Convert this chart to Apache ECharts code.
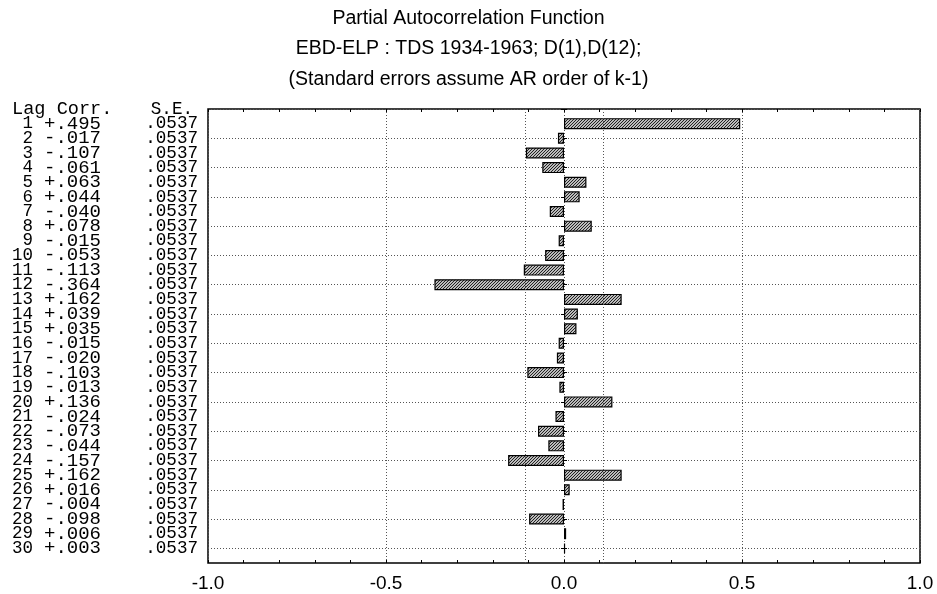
<!DOCTYPE html>
<html>
<head>
<meta charset="utf-8">
<script src="https://cdn.jsdelivr.net/npm/echarts@6/dist/echarts.min.js"></script>
<style>
  html, body { margin: 0; padding: 0; background: #fff; }
  #chart { width: 937px; height: 594px; }
</style>
</head>
<body>
<div id="chart"></div>
<script>
// partial autocorrelations, lag 1..30
var lags = [1,2,3,4,5,6,7,8,9,10,11,12,13,14,15,16,17,18,19,20,21,22,23,24,25,26,27,28,29,30];
var corr = [0.495,-0.017,-0.107,-0.061,0.063,0.044,-0.040,0.078,-0.015,-0.053,
            -0.113,-0.364,0.162,0.039,0.035,-0.015,-0.020,-0.103,-0.013,0.136,
            -0.024,-0.073,-0.044,-0.157,0.162,0.016,-0.004,-0.098,0.006,0.003];
var se = [0.0537,0.0537,0.0537,0.0537,0.0537,0.0537,0.0537,0.0537,0.0537,0.0537,
          0.0537,0.0537,0.0537,0.0537,0.0537,0.0537,0.0537,0.0537,0.0537,0.0537,
          0.0537,0.0537,0.0537,0.0537,0.0537,0.0537,0.0537,0.0537,0.0537,0.0537];
var confLimit = 0.1074; // 2 * S.E.

// one empty slot above and below, like the original table
var cats = [''].concat(lags.map(String)).concat(['']);
var barData = [null].concat(corr).concat([null]);

function fmt3(v) {
  var s = Math.abs(v).toFixed(3).replace(/^0/, '');
  return (v < 0 ? '-' : '+') + s;
}
function fmtSe(v) {
  return v.toFixed(4).replace(/^0/, '');
}

// hatch pattern for the bars
var hatch = document.createElement('canvas');
hatch.width = 3; hatch.height = 3;
var hc = hatch.getContext('2d');
hc.fillStyle = '#bcbcbc';
hc.fillRect(0, 0, 3, 3);
hc.fillStyle = '#222';
for (var px = 0; px < 3; px++) {
  for (var py = 0; py < 3; py++) {
    if ((px + py) % 3 === 2) hc.fillRect(px, py, 1, 1);
  }
}

var mono = '"Courier New", Courier, "Liberation Mono", monospace';
var sans = 'Arial, "Liberation Sans", Helvetica, sans-serif';
var tick = { show: true, inside: true, length: 3, lineStyle: { color: '#000' } };
var dotted = { color: '#555', type: [1, 2], width: 1 };

// one table column drawn as the labels of an extra left category axis
function tableAxis(margin, align, size, fn) {
  return {
    type: 'category',
    data: cats,
    inverse: true,
    boundaryGap: false,
    position: 'left',
    axisLine: { show: false },
    axisTick: { show: false },
    splitLine: { show: false },
    axisLabel: {
      interval: 0,
      align: align,
      margin: margin,
      padding: [0, 0, 4, 0],
      fontFamily: mono,
      fontSize: size,
      color: '#000',
      formatter: function (v, i) { return fn(i); }
    }
  };
}

var chart = echarts.init(document.getElementById('chart'));
var option = {
  animation: false,
  backgroundColor: '#fff',
  title: {
    text: 'Partial Autocorrelation Function\nEBD-ELP : TDS 1934-1963; D(1),D(12);\n(Standard errors assume AR order of k-1)',
    left: 'center',
    top: -2,
    textStyle: {
      fontFamily: sans,
      fontSize: 19.5,
      fontWeight: 'normal',
      color: '#000',
      lineHeight: 30.5
    }
  },
  grid: {
    left: 208,
    right: 17,
    top: 109,
    bottom: 31,
    show: true,
    borderColor: '#000',
    borderWidth: 1.5,
    backgroundColor: 'transparent'
  },
  xAxis: [
    {
      type: 'value',
      min: -1,
      max: 1,
      interval: 0.5,
      position: 'bottom',
      axisLine: { show: false },
      axisTick: tick,
      minorTick: { show: true, splitNumber: 5, length: 3, lineStyle: { color: '#000' } },
      splitLine: { show: true, lineStyle: dotted },
      axisLabel: {
        margin: 11,
        fontFamily: sans,
        fontSize: 19,
        color: '#000',
        formatter: function (v) { return v.toFixed(1); }
      }
    },
    {
      type: 'value',
      min: -1,
      max: 1,
      interval: 0.5,
      position: 'top',
      axisLine: { show: false },
      axisTick: tick,
      minorTick: { show: true, splitNumber: 5, length: 3, lineStyle: { color: '#000' } },
      splitLine: { show: false },
      axisLabel: { show: false }
    }
  ],
  yAxis: [
    {
      type: 'category',
      data: cats,
      inverse: true,
      boundaryGap: false,
      position: 'left',
      axisLine: { show: false },
      axisTick: tick,
      splitLine: { show: true, lineStyle: dotted },
      axisLabel: { show: false }
    },
    {
      type: 'category',
      data: cats,
      inverse: true,
      boundaryGap: false,
      position: 'right',
      axisLine: { show: false },
      axisTick: tick,
      splitLine: { show: false },
      axisLabel: { show: false }
    },
    // header "Lag Corr."
    tableAxis(196, 'left', 18.6, function (i) { return i === 0 ? 'Lag Corr.' : ''; }),
    // header "S.E."
    tableAxis(15, 'right', 17.6, function (i) { return i === 0 ? 'S.E.' : ''; }),
    // lag numbers
    tableAxis(175, 'right', 17.5, function (i) {
      return (i >= 1 && i <= lags.length) ? String(lags[i - 1]) : '';
    }),
    // correlations
    tableAxis(164, 'left', 19, function (i) {
      return (i >= 1 && i <= lags.length) ? fmt3(corr[i - 1]) : '';
    }),
    // standard errors
    tableAxis(10, 'right', 17.6, function (i) {
      return (i >= 1 && i <= lags.length) ? fmtSe(se[i - 1]) : '';
    })
  ],
  series: [
    {
      type: 'bar',
      xAxisIndex: 0,
      yAxisIndex: 0,
      data: barData,
      barWidth: 11,
      itemStyle: {
        color: { image: hatch, repeat: 'repeat' },
        borderColor: '#000',
        borderWidth: 1.2
      },
      markLine: {
        silent: true,
        symbol: 'none',
        label: { show: false },
        lineStyle: dotted,
        data: [{ xAxis: -confLimit }, { xAxis: confLimit }]
      }
    }
  ]
};
chart.setOption(option);
</script>
</body>
</html>
